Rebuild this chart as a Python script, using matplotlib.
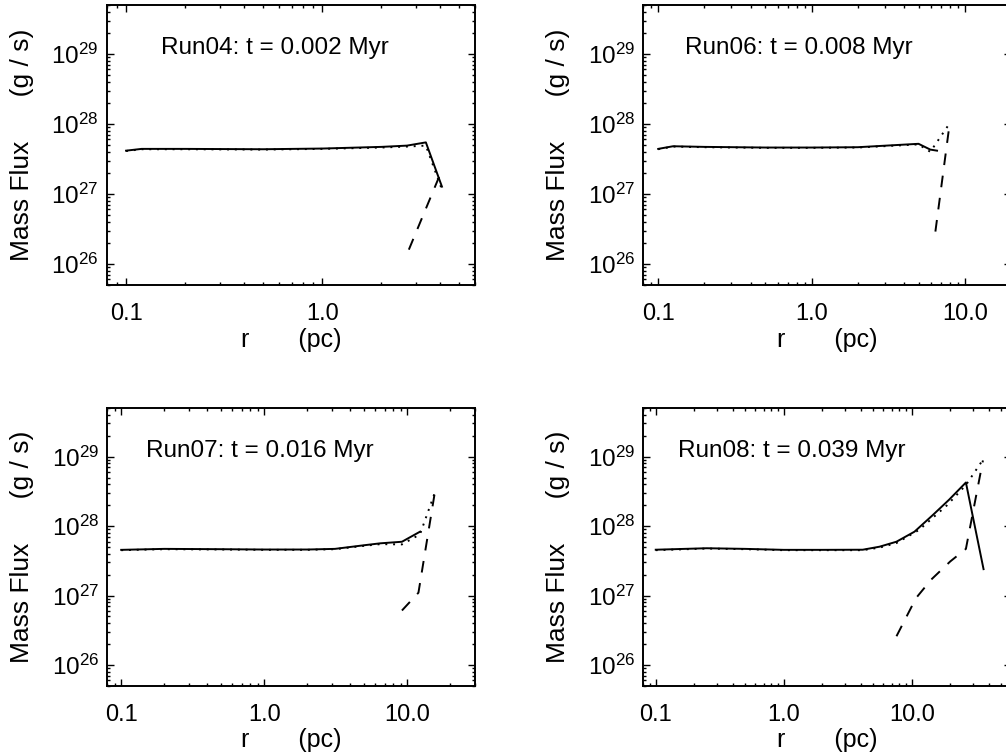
import numpy as np
import matplotlib
matplotlib.use("Agg")
import matplotlib.pyplot as plt

plt.rcParams['font.family'] = ['Liberation Sans', 'DejaVu Sans']
plt.rcParams['mathtext.fontset'] = 'custom'
plt.rcParams['mathtext.rm'] = 'Liberation Sans'
plt.rcParams['mathtext.it'] = 'Liberation Sans:italic'
plt.rcParams['mathtext.bf'] = 'Liberation Sans:bold'

# Run04, t = 0.002 Myr
r04_solid = [0.1, 0.12, 0.2, 0.5, 1.0, 2.0, 2.7, 3.37, 4.07]
f04_solid = [4.15e27, 4.4e27, 4.4e27, 4.35e27, 4.45e27, 4.7e27, 4.9e27, 5.45e27, 1.27e27]
r04_dot = [0.1, 0.12, 0.2, 0.5, 1.0, 2.0, 2.7, 3.37, 4.07]
f04_dot = [4.1e27, 4.35e27, 4.35e27, 4.3e27, 4.4e27, 4.6e27, 4.75e27, 4.9e27, 1.15e27]
r04_dash = [2.76, 4.07]
f04_dash = [1.6e26, 2.2e27]

# Run06, t = 0.008 Myr
r06_solid = [0.1, 0.125, 0.2, 0.5, 1.0, 2.0, 4.97, 5.93, 6.56]
f06_solid = [4.4e27, 4.8e27, 4.7e27, 4.6e27, 4.6e27, 4.65e27, 5.2e27, 4.3e27, 4.15e27]
r06_dot = [0.1, 0.125, 0.2, 0.5, 1.0, 2.0, 4.97, 5.93, 7.93]
f06_dot = [4.35e27, 4.75e27, 4.65e27, 4.55e27, 4.55e27, 4.6e27, 5.1e27, 4.0e27, 1.02e28]
r06_dash = [6.4, 7.93]
f06_dash = [2.9e26, 1.02e28]

# Run07, t = 0.016 Myr
r07_solid = [0.1, 0.2, 0.5, 1.0, 2.0, 3.13, 5.0, 6.5, 9.2, 12.3]
f07_solid = [4.55e27, 4.7e27, 4.65e27, 4.6e27, 4.6e27, 4.7e27, 5.3e27, 5.65e27, 5.95e27, 8.3e27]
r07_dot = [0.1, 0.2, 0.5, 1.0, 2.0, 3.13, 5.0, 6.5, 9.2, 12.3, 15.6]
f07_dot = [4.5e27, 4.65e27, 4.6e27, 4.55e27, 4.55e27, 4.65e27, 5.2e27, 5.5e27, 5.45e27, 7.6e27, 3.0e28]
r07_dash = [9.2, 12.0, 15.6]
f07_dash = [6.1e26, 1.1e27, 3.0e28]

# Run08, t = 0.039 Myr
r08_solid = [0.1, 0.25, 0.5, 1.0, 2.0, 4.14, 5.6, 7.6, 10.5, 14.6, 19.6, 26.5, 36.4]
f08_solid = [4.57e27, 4.8e27, 4.7e27, 4.55e27, 4.55e27, 4.57e27, 5.05e27, 5.96e27,
             8.3e27, 1.44e28, 2.4e28, 4.24e28, 2.4e27]
r08_dot = [0.1, 0.25, 0.5, 1.0, 2.0, 4.14, 5.6, 7.6, 11.4, 18.9, 26.5, 36.0]
f08_dot = [4.5e27, 4.75e27, 4.65e27, 4.5e27, 4.5e27, 4.5e27, 4.9e27, 5.7e27,
           8.8e27, 2.0e28, 3.9e28, 9.0e28]
r08_dash = [7.6, 10.8, 14.2, 20.0, 26.5, 36.0]
f08_dash = [2.6e26, 9.2e26, 1.7e27, 3.1e27, 4.7e27, 8.8e28]

titles = ['Run04: t = 0.002 Myr', 'Run06: t = 0.008 Myr',
          'Run07: t = 0.016 Myr', 'Run08: t = 0.039 Myr']
xmax = [6.0, 20.0, 30.0, 60.0]
xtick_vals = [0.1, 1.0, 10.0]
xtick_labels = ['0.1', '1.0', '10.0']
ytick_vals = [1e26, 1e27, 1e28, 1e29]
ytick_labels = [r'$10^{26}$', r'$10^{27}$', r'$10^{28}$', r'$10^{29}$']

panels = [
    (r04_solid, f04_solid, r04_dot, f04_dot, r04_dash, f04_dash),
    (r06_solid, f06_solid, r06_dot, f06_dot, r06_dash, f06_dash),
    (r07_solid, f07_solid, r07_dot, f07_dot, r07_dash, f07_dash),
    (r08_solid, f08_solid, r08_dot, f08_dot, r08_dash, f08_dash),
]

# axes boxes in figure fraction (right column runs off the page edge)
boxes = [[0.1064, 0.6230, 0.3658, 0.3704],
         [0.6395, 0.6230, 0.3658, 0.3704],
         [0.1067, 0.0926, 0.3658, 0.3677],
         [0.6395, 0.0926, 0.3658, 0.3677]]

fig = plt.figure(figsize=(10.06, 7.56), dpi=100)

for i, (rs, fs, rd, fd, rq, fq) in enumerate(panels):
    ax = fig.add_axes(boxes[i])
    ax.plot(rs, fs, color='black', lw=1.4, ls='-')
    ax.plot(rd, fd, color='black', lw=1.4, ls=(0, (1, 3)))
    ax.plot(rq, fq, color='black', lw=1.4, ls=(0, (6, 5.5)))
    ax.set_xscale('log')
    ax.set_yscale('log')
    ax.set_xlim(0.08, xmax[i])
    ax.set_ylim(5e25, 5e29)

    xt = [v for v in xtick_vals if v <= xmax[i]]
    ax.set_xticks(xt, xtick_labels[:len(xt)])
    ax.set_yticks(ytick_vals, ytick_labels)
    ax.xaxis.set_minor_formatter(matplotlib.ticker.NullFormatter())
    ax.yaxis.set_minor_formatter(matplotlib.ticker.NullFormatter())

    ax.tick_params(which='both', direction='in', top=True, right=True, width=1.0)
    ax.tick_params(which='major', length=4.8)
    ax.tick_params(which='minor', length=2.4)
    ax.tick_params(axis='x', which='major', labelsize=17, pad=13)
    ax.tick_params(axis='y', which='major', labelsize=17.5, pad=6)
    for sp in ax.spines.values():
        sp.set_linewidth(1.4)

    ax.set_xlabel('r       (pc)', fontsize=18, va='center')
    ax.xaxis.set_label_coords(0.5, -0.195)
    ax.set_ylabel('Mass Flux      (g / s)', fontsize=19, va='center')
    ax.yaxis.set_label_coords(-0.231, 0.5)

    ax.text(0.15, 1e29, titles[i], fontsize=17.5, ha='left', va='baseline')

fig.savefig('out.png', dpi=100)
